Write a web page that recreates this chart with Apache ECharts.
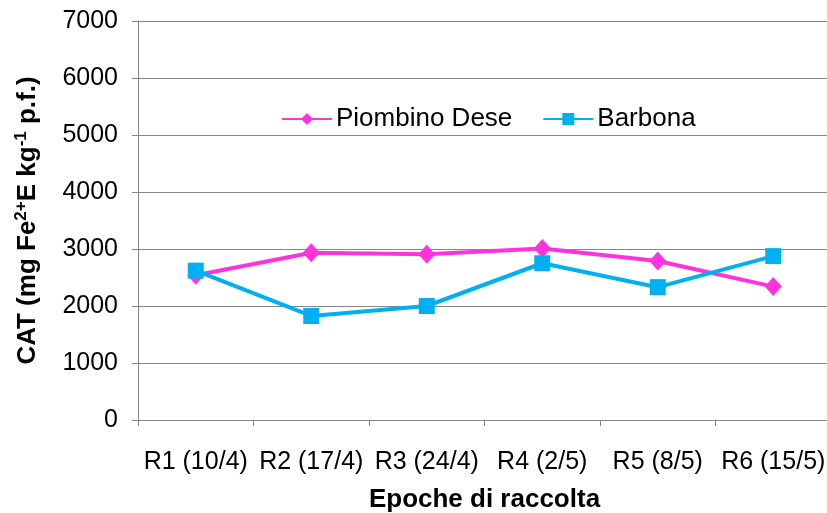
<!DOCTYPE html>
<html>
<head>
<meta charset="utf-8">
<script src="https://cdn.jsdelivr.net/npm/echarts@6/dist/echarts.min.js"></script>
<style>
  html, body { margin: 0; padding: 0; background: #fff; }
  #chart { width: 827px; height: 513px; }
</style>
</head>
<body>
<div id="chart"></div>
<script>
// Harvest dates and CAT activity per site
const categories = ['R1 (10/4)', 'R2 (17/4)', 'R3 (24/4)', 'R4 (2/5)', 'R5 (8/5)', 'R6 (15/5)'];
const piombinoDese = [2540, 2935, 2910, 3010, 2790, 2340];
const barbona = [2620, 1825, 2000, 2750, 2330, 2875];
const yTicks = { min: 0, max: 7000, step: 1000 };

const FONT = '"Liberation Sans", Arial, sans-serif';
const AXIS_GRAY = '#868686';

const chart = echarts.init(document.getElementById('chart'), null, { renderer: 'canvas' });

chart.setOption({
  animation: false,
  backgroundColor: '#ffffff',
  textStyle: { fontFamily: FONT },
  grid: { left: 138, top: 21, width: 693, height: 399, containLabel: false, outerBoundsMode: 'none' },
  legend: {
    left: 281,
    top: 106,
    padding: 0,
    itemWidth: 50,
    itemHeight: 15,
    itemGap: 30,
    textStyle: { fontSize: 26, color: '#000', fontFamily: FONT, padding: [0, 0, 0, -1] },
    data: ['Piombino Dese', 'Barbona']
  },
  xAxis: {
    type: 'category',
    data: categories,
    boundaryGap: true,
    name: 'Epoche di raccolta',
    nameLocation: 'middle',
    nameGap: 67,
    nameTextStyle: { fontSize: 26, fontWeight: 'bold', color: '#000', fontFamily: FONT },
    axisLine: { lineStyle: { color: AXIS_GRAY, width: 1 } },
    axisTick: { show: true, length: 6, inside: false, alignWithLabel: false, lineStyle: { color: AXIS_GRAY } },
    axisLabel: { margin: 30, fontSize: 25, color: '#000', fontFamily: FONT, interval: 0 },
    splitLine: { show: false }
  },
  yAxis: {
    type: 'value',
    min: yTicks.min,
    max: yTicks.max,
    interval: yTicks.step,
    name: 'CAT (mg Fe{sup|2+}E kg{sup|-1} p.f.)',
    nameLocation: 'middle',
    nameRotate: 90,
    nameGap: 96,
    nameTextStyle: {
      fontSize: 26, fontWeight: 'bold', color: '#000', fontFamily: FONT,
      rich: {
        sup: { fontSize: 17, fontWeight: 'bold', color: '#000', fontFamily: FONT, padding: [0, 0, 12, 0] }
      }
    },
    axisLine: { show: true, lineStyle: { color: AXIS_GRAY, width: 1 } },
    axisTick: { show: true, length: 6, inside: false, lineStyle: { color: AXIS_GRAY } },
    axisLabel: { margin: 20, fontSize: 25, color: '#000', fontFamily: FONT, formatter: v => String(v) },
    splitLine: { show: true, lineStyle: { color: AXIS_GRAY, width: 1 } }
  },
  series: [
    {
      name: 'Piombino Dese',
      type: 'line',
      data: piombinoDese,
      symbol: 'diamond',
      symbolSize: [17, 19],
      lineStyle: { color: '#ff33dd', width: 4 },
      itemStyle: { color: '#ff33dd' },
      z: 2
    },
    {
      name: 'Barbona',
      type: 'line',
      data: barbona,
      symbol: 'rect',
      symbolSize: 16,
      lineStyle: { color: '#00b0f0', width: 4 },
      itemStyle: { color: '#00b0f0' },
      z: 3
    }
  ]
});
</script>
</body>
</html>
